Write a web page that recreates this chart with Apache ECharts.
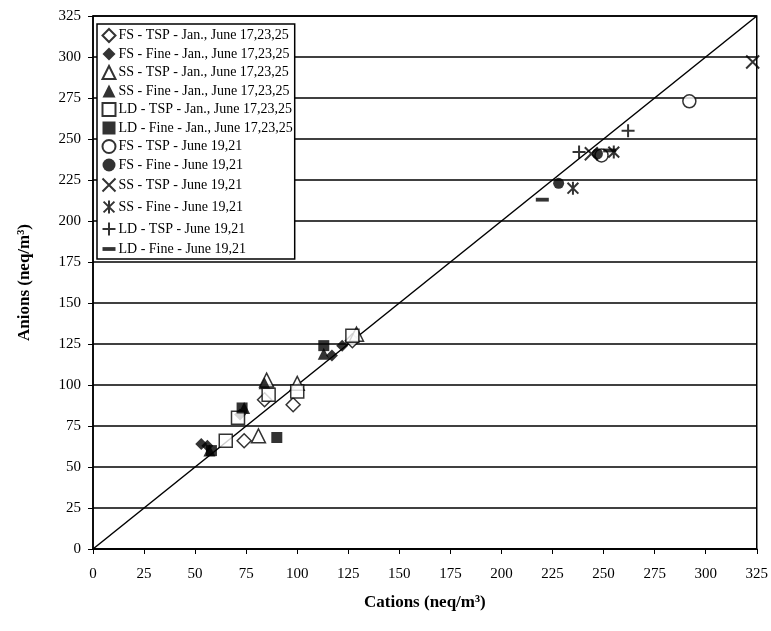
<!DOCTYPE html>
<html>
<head>
<meta charset="utf-8">
<script src="https://cdn.jsdelivr.net/npm/echarts@6/dist/echarts.min.js"></script>
<style>
  html, body { margin: 0; padding: 0; background: #fff; }
  #chart { width: 771px; height: 631px; }
</style>
</head>
<body>
<div id="chart"></div>
<script>
// axis ticks
const ticks = [0, 25, 50, 75, 100, 125, 150, 175, 200, 225, 250, 275, 300, 325];

// [cations, anions]
const fsTspJan = [[74, 66], [98, 88], [84, 91], [127, 127]];
const fsFineJan = [[56, 63], [53, 64], [72, 82], [117, 118], [122, 124]];
const ssTspJan = [[81, 69], [85, 103], [100, 101], [129, 131]];
const ssFineJan = [[57, 60], [74, 86], [84, 101], [113, 119]];
const ldTspJan = [[65, 66], [71, 80], [86, 94], [100, 96], [127, 130]];
const ldFineJan = [[90, 68], [58, 60], [73, 86], [113, 124]];
const fsTspJun = [[292, 273], [249, 240]];
const fsFineJun = [[228, 223], [247, 241]];
const ssTspJun = [[323, 297], [244, 241]];
const ssFineJun = [[235, 220], [255, 242]];
const ldTspJun = [[262, 255], [238, 242]];
const ldFineJun = [[220, 213], [253, 243]];
const oneToOne = [[0, 0], [325, 325]];

const serif = "'Liberation Serif', 'DejaVu Serif', serif";
const open = { color: "#fff", borderColor: "#000", borderWidth: 1.5 };
const solid = { color: "#000" };
const lineMark = { color: "none", borderColor: "#000", borderWidth: 2 };
const crossPath = "path://M0,0L10,10M10,0L0,10";
const starPath = "path://M0,0L10,10M10,0L0,10M5,-1L5,11";
const plusPath = "path://M5,0L5,10M0,5L10,5";
const barPath = "path://M0,0L12,0L12,3.5L0,3.5Z";

function sc(name, data, symbol, style, size) {
  return {
    name: name,
    type: "scatter",
    data: data,
    symbol: symbol,
    symbolSize: size || 12,
    symbolKeepAspect: true,
    itemStyle: style,
    z: 3,
  };
}

const series = [
  sc("FS - TSP - Jan., June 17,23,25", fsTspJan, "diamond", open, 14),
  sc("FS - Fine - Jan., June 17,23,25", fsFineJan, "diamond", solid, 12),
  sc("SS - TSP - Jan., June 17,23,25", ssTspJan, "triangle", open, 14),
  sc("SS - Fine - Jan., June 17,23,25", ssFineJan, "triangle", solid, 12),
  sc("LD - TSP - Jan., June 17,23,25", ldTspJan, "rect", open, 13),
  sc("LD - Fine - Jan., June 17,23,25", ldFineJan, "rect", solid, 11),
  sc("FS - TSP - June 19,21", fsTspJun, "circle", open, 13),
  sc("FS - Fine - June 19,21", fsFineJun, "circle", solid, 11),
  sc("SS - TSP - June 19,21", ssTspJun, crossPath, lineMark, 13),
  sc("SS - Fine - June 19,21", ssFineJun, starPath, lineMark, 13),
  sc("LD - TSP - June 19,21", ldTspJun, plusPath, lineMark, 13),
  sc("LD - Fine - June 19,21", ldFineJun, barPath, solid, 13),
  {
    name: "1:1",
    type: "line",
    data: oneToOne,
    symbol: "none",
    lineStyle: { color: "#000", width: 1.5 },
    z: 2,
  },
];

const chart = echarts.init(document.getElementById("chart"));
chart.setOption({
  animation: false,
  backgroundColor: "#fff",
  grid: {
    left: 93,
    right: 14,
    top: 16,
    bottom: 82,
    show: true,
    borderColor: "#000",
    borderWidth: 1.5,
  },
  legend: {
    data: series.slice(0, 12).map((s) => s.name),
    orient: "vertical",
    left: 97,
    top: 24,
    backgroundColor: "#fff",
    borderColor: "#000",
    borderWidth: 1.5,
    padding: [4, 2, 3, 3],
    itemGap: 4,
    itemWidth: 13,
    itemHeight: 13,
    textStyle: { fontFamily: serif, fontSize: 14, color: "#000", padding: [0, 0, 0, -2] },
  },
  xAxis: {
    type: "value",
    min: 0,
    max: 325,
    interval: 25,
    name: "Cations (neq/m³)",
    nameLocation: "middle",
    nameGap: 45,
    nameTextStyle: { fontFamily: serif, fontSize: 17, fontWeight: "bold", color: "#000" },
    axisLine: { lineStyle: { color: "#000", width: 1.5 } },
    axisTick: { lineStyle: { color: "#000" }, length: 5 },
    axisLabel: { fontFamily: serif, fontSize: 15, color: "#000", margin: 18 },
    splitLine: { show: false },
  },
  yAxis: {
    type: "value",
    min: 0,
    max: 325,
    interval: 25,
    name: "Anions (neq/m³)",
    nameLocation: "middle",
    nameGap: 60,
    nameTextStyle: { fontFamily: serif, fontSize: 17, fontWeight: "bold", color: "#000" },
    axisLine: { lineStyle: { color: "#000", width: 1.5 } },
    axisTick: { lineStyle: { color: "#000" }, length: 5 },
    axisLabel: { fontFamily: serif, fontSize: 15, color: "#000", margin: 12 },
    splitLine: { lineStyle: { color: "#000", width: 1.5 } },
  },
  series: series,
});
</script>
</body>
</html>
